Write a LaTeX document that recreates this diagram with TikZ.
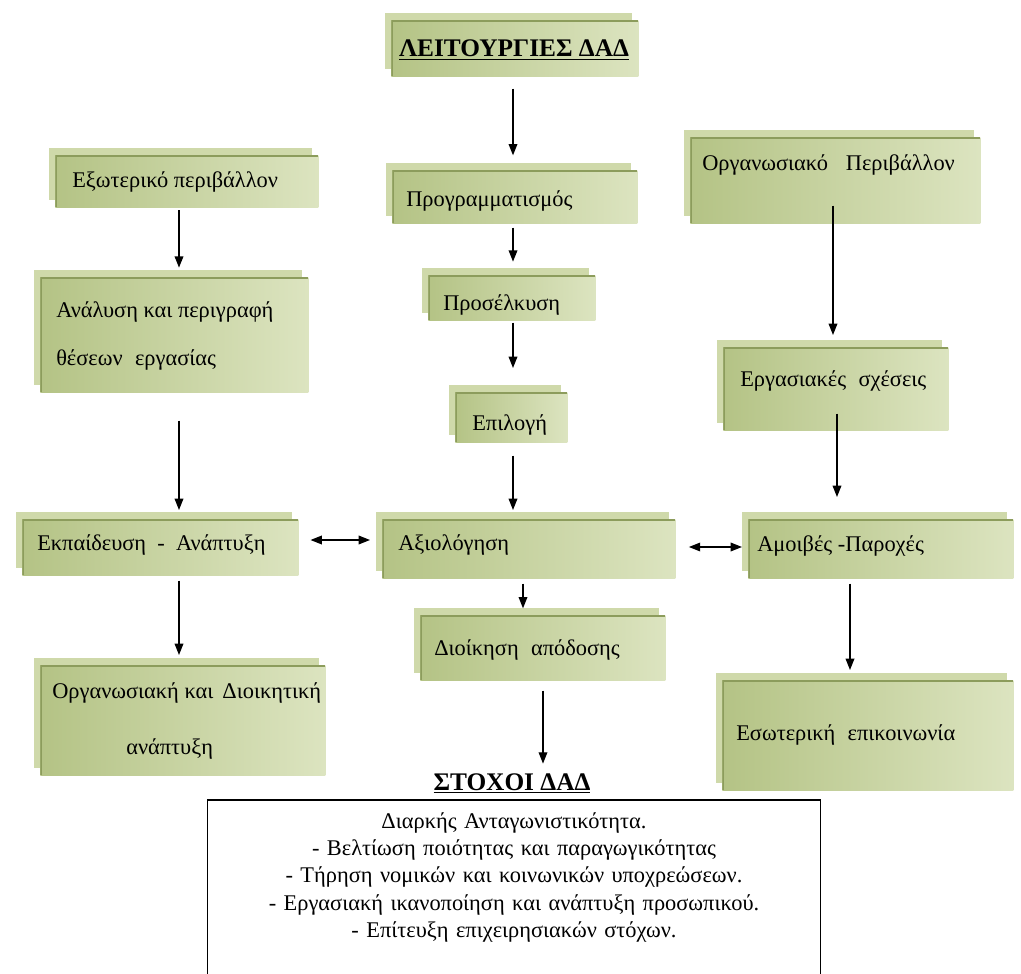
\documentclass[tikz,border=0pt]{standalone}
\usepackage{fontspec}
\setmainfont{Liberation Serif}
\usetikzlibrary{arrows.meta}

\definecolor{backgreen}{HTML}{CFD9AA}
\definecolor{frontleft}{HTML}{B4C385}
\definecolor{frontmid}{HTML}{EEF2DF}
\definecolor{frontright}{HTML}{DCE4C0}
\definecolor{edgegreen}{HTML}{8C9C5C}

\tikzset{
  gback/.style={fill=backgreen},
  gfront/.style={inner sep=0pt, left color=frontleft, middle color=frontmid, right color=frontright,
    path picture={\draw[edgegreen, line width=2.5pt]
      (path picture bounding box.south west) -- (path picture bounding box.north west)
      -- (path picture bounding box.north east);}},
  lbl/.style={anchor=base west, inner sep=0pt, font=\fontsize{16.8}{20}\selectfont},
  head/.style={anchor=base, inner sep=0pt, font=\bfseries\fontsize{19}{23}\selectfont},
  arr/.style={-{Triangle[length=8.5pt,width=6.5pt]}, line width=1pt},
  dblarr/.style={{Triangle[length=8.5pt,width=6.5pt]}-{Triangle[length=8.5pt,width=6.5pt]}, line width=1pt},
  frame/.style={line width=0.9pt},
}

% two stacked green panels: a back sheet shifted up-left, and the named front sheet
\newcommand\greenbox[5]{%
  \fill[gback] ({#2-6},{#3-7}) rectangle ({#4-6},{#5-7});
  \pgfmathsetmacro\gbw{(#4-#2)*0.75}%
  \pgfmathsetmacro\gbh{(#5-#3)*0.75}%
  \node[gfront, minimum width=\gbw pt, minimum height=\gbh pt, anchor=north west] (#1) at (#2,#3) {};
}

\begin{document}
\begin{tikzpicture}[x=0.75pt, y=-0.75pt]
\useasboundingbox (0,0) rectangle (1021,974);

% panels
\greenbox{title}{391}{20}{638}{76}
\greenbox{ext}{55}{155}{318}{207}
\greenbox{prog}{392}{170}{637}{223}
\greenbox{orgenv}{690}{137}{980}{223}
\greenbox{anal}{40}{277}{308}{392}
\greenbox{pros}{428}{275}{595}{320}
\greenbox{epi}{455}{392}{567}{442}
\greenbox{erg}{723}{347}{948}{430}
\greenbox{ekp}{22}{519}{298}{575}
\greenbox{axi}{382}{519}{675}{578}
\greenbox{amo}{748}{519}{1013}{578}
\greenbox{orgdev}{40}{665}{325}{775}
\greenbox{dioik}{420}{615}{665}{680}
\greenbox{esot}{722}{680}{1013}{790}

% panel texts
\node[head] (titleT) at (514,57) {\underline{ΛΕΙΤΟΥΡΓΙΕΣ ΔΑΔ}};
\node[lbl] (extT) at (72,187) {Εξωτερικό περιβάλλον};
\node[lbl] (progT) at (406,206) {Προγραμματισμός};
\node[lbl] (orgenvT) at (702,170) {Οργανωσιακό\hspace{0.8em}Περιβάλλον};
\node[lbl] (analT1) at (56,317) {Ανάλυση και περιγραφή};
\node[lbl] (analT2) at (56,365) {θέσεων\hspace{0.3em} εργασίας};
\node[lbl] (prosT) at (443,310) {Προσέλκυση};
\node[lbl] (epiT) at (472,430) {Επιλογή};
\node[lbl] (ergT) at (740,386) {Εργασιακές\hspace{0.3em} σχέσεις};
\node[lbl] (ekpT) at (37,550) {Εκπαίδευση\hspace{0.25em} -\hspace{0.25em} Ανάπτυξη};
\node[lbl] (axiT) at (398,550) {Αξιολόγηση};
\node[lbl] (amoT) at (757,551) {Αμοιβές -Παροχές};
\node[lbl] (orgdevT1) at (52,698) {Οργανωσιακή και\hspace{0.15em} Διοικητική};
\node[lbl] (orgdevT2) at (126,754) {ανάπτυξη};
\node[lbl] (dioikT) at (434,655) {Διοίκηση\hspace{0.3em} απόδοσης};
\node[lbl] (esotT) at (736,740) {Εσωτερική\hspace{0.3em} επικοινωνία};

% goals
\node[head] (goalhead) at (512,790) {\underline{ΣΤΟΧΟΙ ΔΑΔ}};
\node[anchor=north, minimum width=459pt, text width=450pt, align=center, inner xsep=0pt, inner ysep=9pt,
      font=\fontsize{16.8}{20.5}\selectfont] (goals) at (514,800)
  {Διαρκής Ανταγωνιστικότητα.\\
   - Βελτίωση ποιότητας και παραγωγικότητας\\
   - Τήρηση νομικών και κοινωνικών υποχρεώσεων.\\
   - Εργασιακή ικανοποίηση και ανάπτυξη προσωπικού.\\
   - Επίτευξη επιχειρησιακών στόχων.};
\draw[frame] ([yshift=-40pt]goals.south west) -- (goals.north west) -- (goals.north east) -- ([yshift=-40pt]goals.south east);

% arrow columns and rows
\coordinate (cmid) at (513,0);
\coordinate (cleft) at (179,0);
\coordinate (cright) at (833,0);
\coordinate (cright2) at (837,0);
\coordinate (cdio) at (523,0);
\coordinate (cgoal) at (543,0);
\coordinate (cesot) at (850,0);
\coordinate (rowL) at (0,540);
\coordinate (rowR) at (0,547);

% connectors
\draw[arr, shorten <=9pt, shorten >=11pt] (title.south -| cmid) -- (prog.north -| cmid);
\draw[arr, shorten <=2pt, shorten >=7pt] (ext.south -| cleft) -- (anal.north -| cleft);
\draw[arr, shorten <=3pt, shorten >=10pt] (prog.south -| cmid) -- (pros.north -| cmid);
\draw[arr, shorten <=-13.5pt, shorten >=9pt] (orgenv.south -| cright) -- (erg.north -| cright);
\draw[arr, shorten <=1.5pt, shorten >=18pt] (pros.south -| cmid) -- (epi.north -| cmid);
\draw[arr, shorten <=21pt, shorten >=6.75pt] (anal.south -| cleft) -- (ekp.north -| cleft);
\draw[arr, shorten <=9.75pt, shorten >=6.75pt] (epi.south -| cmid) -- (axi.north -| cmid);
\draw[arr, shorten <=-12.75pt, shorten >=16.5pt] (erg.south -| cright2) -- (amo.north -| cright2);
\draw[dblarr, shorten <=9pt, shorten >=9pt] (ekp.east |- rowL) -- (axi.west |- rowL);
\draw[dblarr, shorten <=10pt, shorten >=4.5pt] (axi.east |- rowR) -- (amo.west |- rowR);
\draw[arr, shorten <=3.75pt, shorten >=7.5pt] (ekp.south -| cleft) -- (orgdev.north -| cleft);
\draw[arr, shorten <=3.75pt, shorten >=5pt] (axi.south -| cdio) -- (dioik.north -| cdio);
\draw[arr, shorten <=7.5pt, shorten >=7pt] (dioik.south -| cgoal) -- (goalhead.north -| cgoal);
\draw[arr, shorten <=3.75pt, shorten >=7.5pt] (amo.south -| cesot) -- (esot.north -| cesot);
\end{tikzpicture}
\end{document}
